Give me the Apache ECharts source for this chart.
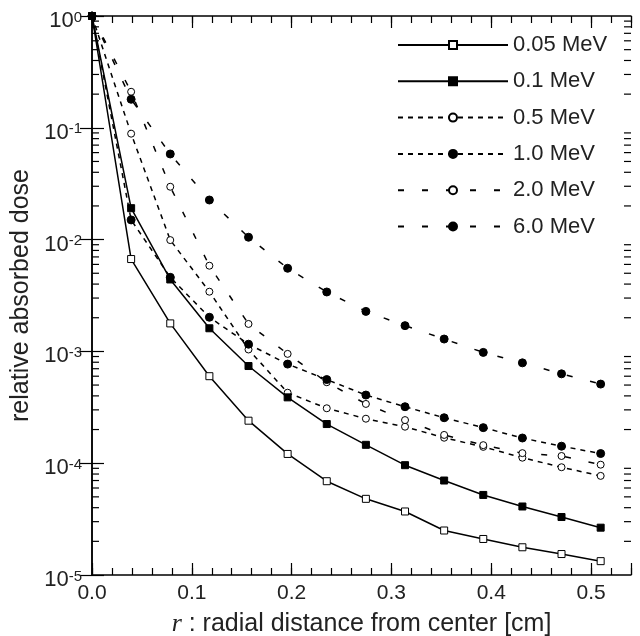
<!DOCTYPE html>
<html><head><meta charset="utf-8">
<script src="https://cdn.jsdelivr.net/npm/echarts@6/dist/echarts.min.js"></script>
<style>html,body{margin:0;padding:0;background:#fff}#c{width:640px;height:636px}</style>
</head><body><div id="c"></div>
<script>
// radial distance r [cm]
const r = [0, 0.0392, 0.0784, 0.1176, 0.1568, 0.196, 0.2352, 0.2744, 0.3136, 0.3528, 0.392, 0.4312, 0.4704, 0.5096];
const seriesNames = ['0.05 MeV', '0.1 MeV', '0.5 MeV', '1.0 MeV', '2.0 MeV', '6.0 MeV'];
const dose005 = [1, 6.7e-3, 1.78e-3, 6.0e-4, 2.4e-4, 1.21e-4, 6.9e-5, 4.8e-5, 3.7e-5, 2.5e-5, 2.1e-5, 1.77e-5, 1.54e-5, 1.33e-5];
const dose01  = [1, 1.91e-2, 4.4e-3, 1.61e-3, 7.4e-4, 3.88e-4, 2.24e-4, 1.46e-4, 9.6e-5, 7.0e-5, 5.2e-5, 4.1e-5, 3.3e-5, 2.65e-5];
const dose05  = [1, 8.86e-2, 9.9e-3, 3.42e-3, 1.04e-3, 4.27e-4, 3.1e-4, 2.5e-4, 2.12e-4, 1.69e-4, 1.40e-4, 1.12e-4, 9.2e-5, 7.7e-5];
const dose10  = [1, 1.5e-2, 4.6e-3, 2.02e-3, 1.16e-3, 7.7e-4, 5.6e-4, 4.07e-4, 3.2e-4, 2.55e-4, 2.08e-4, 1.68e-4, 1.42e-4, 1.22e-4];
const dose20  = [1, 0.21, 2.97e-2, 5.84e-3, 1.76e-3, 9.5e-4, 5.3e-4, 3.39e-4, 2.43e-4, 1.79e-4, 1.45e-4, 1.23e-4, 1.16e-4, 9.7e-5];
const dose60  = [1, 0.18, 5.83e-2, 2.26e-2, 1.05e-2, 5.54e-3, 3.4e-3, 2.28e-3, 1.7e-3, 1.29e-3, 9.8e-4, 7.9e-4, 6.3e-4, 5.1e-4];
const xTickLabels = ['0.0', '0.1', '0.2', '0.3', '0.4', '0.5'];
const yMinorTicks = [];
for (let e = -5; e < 0; e++) for (let k = 2; k <= 9; k++) yMinorTicks.push(k * Math.pow(10, e));

const FONT = "'Liberation Sans', Arial, sans-serif";
const TXT = '#222';
const X_MIN = 0, X_MAX = 0.54;

function pts(arr) { return r.map((x, i) => [x, arr[i]]); }
function lineSeries(name, arr, symbol, filled, dash, size, z) {
  return {
    name, type: 'line', data: pts(arr), symbol, symbolSize: size, showAllSymbol: true,
    xAxisIndex: 0, yAxisIndex: 0, z: z, clip: false,
    lineStyle: { color: '#000', width: 1.5, type: dash },
    itemStyle: { color: filled ? '#000' : '#fff', borderColor: '#000', borderWidth: 1 },
    emphasis: { disabled: true }, animation: false
  };
}

const chart = echarts.init(document.getElementById('c'), null, { renderer: 'canvas' });
const axisLine = { show: true, lineStyle: { color: '#000', width: 1.5 } };
chart.setOption({
  animation: false,
  backgroundColor: '#fff',
  grid: { left: 92, right: 9, top: 16, bottom: 61, containLabel: false, outerBoundsMode: 'none' },
  xAxis: [
    { type: 'value', position: 'bottom', min: X_MIN, max: X_MAX, interval: 0.1,
      axisLine, splitLine: { show: false },
      axisTick: { inside: true, length: 12, lineStyle: { color: '#000', width: 1.2 } },
      axisLabel: { fontSize: 21, color: TXT, fontFamily: FONT, margin: 8,
        formatter: v => { const i = Math.round(v * 10); return Math.abs(v - i / 10) < 1e-6 && i < xTickLabels.length ? xTickLabels[i] : ''; } },
      name: '{i|r} : radial distance from center [cm]', nameLocation: 'middle', nameGap: 36,
      nameTextStyle: { fontSize: 25, color: TXT, fontFamily: FONT,
        rich: { i: { fontSize: 26, fontStyle: 'italic', fontFamily: "'Liberation Serif', 'Times New Roman', serif", color: TXT } } } },
    { type: 'value', position: 'bottom', min: X_MIN, max: X_MAX, interval: 0.02,
      axisLine: { show: false }, splitLine: { show: false }, axisLabel: { show: false },
      axisTick: { inside: true, length: 7, lineStyle: { color: '#000', width: 1.2 } } },
    { type: 'value', position: 'top', min: X_MIN, max: X_MAX, interval: 0.1,
      axisLine, splitLine: { show: false }, axisLabel: { show: false },
      axisTick: { inside: true, length: 12, lineStyle: { color: '#000', width: 1.2 } } },
    { type: 'value', position: 'top', min: X_MIN, max: X_MAX, interval: 0.02,
      axisLine: { show: false }, splitLine: { show: false }, axisLabel: { show: false },
      axisTick: { inside: true, length: 7, lineStyle: { color: '#000', width: 1.2 } } }
  ],
  yAxis: [
    { type: 'log', logBase: 10, min: 1e-5, max: 1, position: 'left',
      axisLine, splitLine: { show: false },
      axisTick: { inside: true, length: 12, lineStyle: { color: '#000', width: 1.2 } },
      axisLabel: { fontSize: 22, color: TXT, fontFamily: FONT, margin: 10, padding: [10, 0, 0, 0],
        formatter: v => '10{s|' + Math.round(Math.log10(v)) + '}',
        rich: { s: { fontSize: 15, color: TXT, fontFamily: FONT, verticalAlign: 'top', lineHeight: 12 } } },
      name: 'relative absorbed dose', nameLocation: 'middle', nameGap: 56, nameRotate: 90,
      nameTextStyle: { fontSize: 25, color: TXT, fontFamily: FONT } },
    { type: 'log', logBase: 10, min: 1e-5, max: 1, position: 'right',
      axisLine, splitLine: { show: false }, axisLabel: { show: false },
      axisTick: { inside: true, length: 12, lineStyle: { color: '#000', width: 1.2 } } }
  ],
  legend: {
    orient: 'vertical', left: 397, top: 34, padding: 0, itemWidth: 110, itemHeight: 10, itemGap: 14.3,
    textStyle: { fontSize: 22, color: TXT, fontFamily: FONT }, itemTextGap: 8,
    data: seriesNames, selectedMode: false
  },
  series: [
    { type: 'custom', name: 'minorTicks', silent: true, xAxisIndex: 0, yAxisIndex: 0, z: 1,
      data: yMinorTicks.map(v => [X_MIN, v]),
      renderItem: (params, api) => {
        const v = api.value(1);
        const pl = api.coord([X_MIN, v]);
        const pr = api.coord([X_MAX, v]);
        const st = { stroke: '#000', lineWidth: 1.2 };
        return { type: 'group', children: [
          { type: 'line', shape: { x1: pl[0], y1: pl[1], x2: pl[0] + 7, y2: pl[1] }, style: st },
          { type: 'line', shape: { x1: pr[0], y1: pr[1], x2: pr[0] - 7, y2: pr[1] }, style: st }
        ] };
      } },
    lineSeries('0.05 MeV', dose005, 'rect', false, 'solid', 7, 6),
    lineSeries('0.5 MeV', dose05, 'circle', false, [5, 5], 7, 3),
    lineSeries('1.0 MeV', dose10, 'circle', true, [5, 5], 8, 4),
    lineSeries('2.0 MeV', dose20, 'circle', false, [6, 18], 7, 3),
    lineSeries('6.0 MeV', dose60, 'circle', true, [6, 18], 8, 4),
    lineSeries('0.1 MeV', dose01, 'rect', true, 'solid', 7, 7)
  ]
});
</script>
</body></html>
